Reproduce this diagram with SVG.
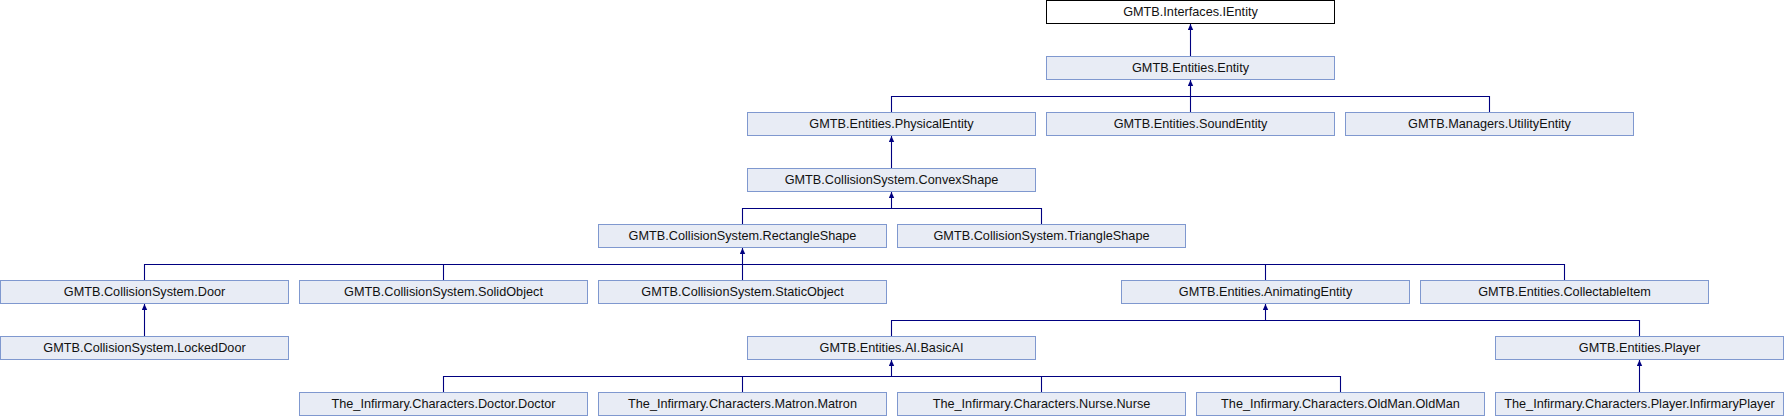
<svg xmlns="http://www.w3.org/2000/svg" width="1784" height="416" viewBox="0 0 1784 416">
<style>
  .box rect { fill: #E8ECF5; stroke: #7F98CF; stroke-width: 1; }
  .box.root rect { fill: #FFFFFF; stroke: #000000; }
  .box text { font-family: "Liberation Sans", Arial, sans-serif; font-size: 12.7px; fill: #111111; text-anchor: middle; }
  .edges path { fill: none; stroke: #000080; stroke-width: 1.1; }
</style>
<defs>
  <marker id="arr" markerUnits="userSpaceOnUse" markerWidth="6" markerHeight="6" viewBox="0 0 6 6" refX="6" refY="3" orient="auto">
    <path d="M0,0.3 L6,3 L0,5.7 z" fill="#000080"/>
  </marker>
</defs>
<rect x="0" y="0" width="1784" height="416" fill="#FFFFFF"/>
<g class="edges">
  <path d="M1190.5,56 V24" marker-end="url(#arr)"/>
  <path d="M891.5,112 V96.5 H1489.5 V112"/>
  <path d="M1190.5,112 V80" marker-end="url(#arr)"/>
  <path d="M891.5,168 V136" marker-end="url(#arr)"/>
  <path d="M742.5,224 V208.5 H1041.5 V224"/>
  <path d="M891.5,208.5 V192" marker-end="url(#arr)"/>
  <path d="M144.5,280 V264.5 H1564.5 V280"/>
  <path d="M443.5,264.5 V280"/>
  <path d="M1265.5,264.5 V280"/>
  <path d="M742.5,280 V248" marker-end="url(#arr)"/>
  <path d="M144.5,336 V304" marker-end="url(#arr)"/>
  <path d="M891.5,336 V320.5 H1639.5 V336"/>
  <path d="M1265.5,320.5 V304" marker-end="url(#arr)"/>
  <path d="M443.5,392 V376.5 H1340.5 V392"/>
  <path d="M742.5,376.5 V392"/>
  <path d="M1041.5,376.5 V392"/>
  <path d="M891.5,376.5 V360" marker-end="url(#arr)"/>
  <path d="M1639.5,392 V360" marker-end="url(#arr)"/>
</g>
<g id="n_ientity" class="box root"><rect x="1046.5" y="0.5" width="288" height="23"/><text x="1190.5" y="16">GMTB.Interfaces.IEntity</text></g>
<g id="n_entity" class="box"><rect x="1046.5" y="56.5" width="288" height="23"/><text x="1190.5" y="72">GMTB.Entities.Entity</text></g>
<g id="n_physical" class="box"><rect x="747.5" y="112.5" width="288" height="23"/><text x="891.5" y="128">GMTB.Entities.PhysicalEntity</text></g>
<g id="n_sound" class="box"><rect x="1046.5" y="112.5" width="288" height="23"/><text x="1190.5" y="128">GMTB.Entities.SoundEntity</text></g>
<g id="n_utility" class="box"><rect x="1345.5" y="112.5" width="288" height="23"/><text x="1489.5" y="128">GMTB.Managers.UtilityEntity</text></g>
<g id="n_convex" class="box"><rect x="747.5" y="168.5" width="288" height="23"/><text x="891.5" y="184">GMTB.CollisionSystem.ConvexShape</text></g>
<g id="n_rect" class="box"><rect x="598.5" y="224.5" width="288" height="23"/><text x="742.5" y="240">GMTB.CollisionSystem.RectangleShape</text></g>
<g id="n_tri" class="box"><rect x="897.5" y="224.5" width="288" height="23"/><text x="1041.5" y="240">GMTB.CollisionSystem.TriangleShape</text></g>
<g id="n_door" class="box"><rect x="0.5" y="280.5" width="288" height="23"/><text x="144.5" y="296">GMTB.CollisionSystem.Door</text></g>
<g id="n_solid" class="box"><rect x="299.5" y="280.5" width="288" height="23"/><text x="443.5" y="296">GMTB.CollisionSystem.SolidObject</text></g>
<g id="n_static" class="box"><rect x="598.5" y="280.5" width="288" height="23"/><text x="742.5" y="296">GMTB.CollisionSystem.StaticObject</text></g>
<g id="n_anim" class="box"><rect x="1121.5" y="280.5" width="288" height="23"/><text x="1265.5" y="296">GMTB.Entities.AnimatingEntity</text></g>
<g id="n_collect" class="box"><rect x="1420.5" y="280.5" width="288" height="23"/><text x="1564.5" y="296">GMTB.Entities.CollectableItem</text></g>
<g id="n_locked" class="box"><rect x="0.5" y="336.5" width="288" height="23"/><text x="144.5" y="352">GMTB.CollisionSystem.LockedDoor</text></g>
<g id="n_basicai" class="box"><rect x="747.5" y="336.5" width="288" height="23"/><text x="891.5" y="352">GMTB.Entities.AI.BasicAI</text></g>
<g id="n_player" class="box"><rect x="1495.5" y="336.5" width="288" height="23"/><text x="1639.5" y="352">GMTB.Entities.Player</text></g>
<g id="n_doctor" class="box"><rect x="299.5" y="392.5" width="288" height="23"/><text x="443.5" y="408">The_Infirmary.Characters.Doctor.Doctor</text></g>
<g id="n_matron" class="box"><rect x="598.5" y="392.5" width="288" height="23"/><text x="742.5" y="408">The_Infirmary.Characters.Matron.Matron</text></g>
<g id="n_nurse" class="box"><rect x="897.5" y="392.5" width="288" height="23"/><text x="1041.5" y="408">The_Infirmary.Characters.Nurse.Nurse</text></g>
<g id="n_oldman" class="box"><rect x="1196.5" y="392.5" width="288" height="23"/><text x="1340.5" y="408">The_Infirmary.Characters.OldMan.OldMan</text></g>
<g id="n_iplayer" class="box"><rect x="1495.5" y="392.5" width="288" height="23"/><text x="1639.5" y="408">The_Infirmary.Characters.Player.InfirmaryPlayer</text></g>
</svg>
